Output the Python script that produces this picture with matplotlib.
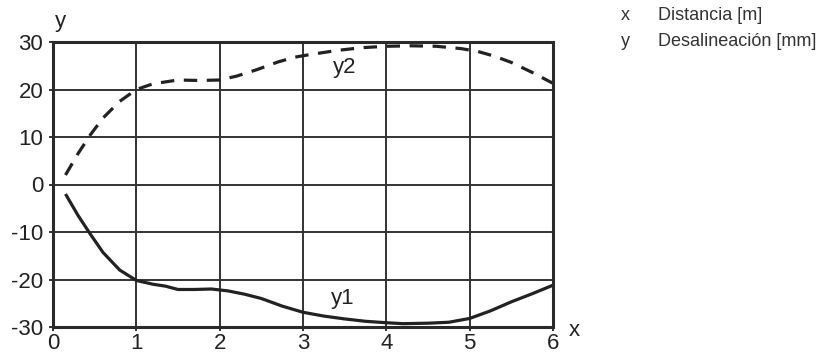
import numpy as np
import matplotlib.pyplot as plt

plt.rcParams['font.family'] = ['Liberation Sans', 'DejaVu Sans']
plt.rcParams['axes.unicode_minus'] = False

# curve y1 (solid)
x1 = [0.15, 0.3, 0.45, 0.6, 0.8, 1.0, 1.2, 1.35, 1.5, 1.7, 1.9, 2.1, 2.3, 2.5,
      2.75, 3.0, 3.25, 3.5, 3.75, 4.0, 4.2, 4.5, 4.75, 5.0, 5.25, 5.5, 5.75, 6.0]
y1 = [-2.0, -6.5, -10.5, -14.3, -18.0, -20.2, -21.0, -21.4, -22.1, -22.1, -22.0,
      -22.4, -23.1, -24.0, -25.6, -26.9, -27.7, -28.3, -28.8, -29.1, -29.3,
      -29.2, -29.0, -28.2, -26.6, -24.7, -23.0, -21.2]

# curve y2 (dashed)
x2 = [0.15, 0.3, 0.45, 0.6, 0.8, 1.0, 1.2, 1.5, 1.75, 2.0, 2.2, 2.45, 2.7, 2.9,
      3.1, 3.4, 3.7, 4.0, 4.3, 4.6, 4.9, 5.1, 5.3, 5.5, 5.75, 6.0]
y2 = [2.0, 6.5, 10.5, 14.0, 17.5, 20.0, 21.2, 22.0, 21.9, 22.0, 22.8, 24.2, 25.8,
      26.8, 27.4, 28.2, 28.8, 29.1, 29.2, 29.1, 28.6, 28.0, 27.0, 25.7, 23.6, 21.3]

xticks = [0, 1, 2, 3, 4, 5, 6]
yticks = [-30, -20, -10, 0, 10, 20, 30]

fig = plt.figure(figsize=(8.24, 3.58), dpi=100)
ax = fig.add_axes([53 / 824, 1 - 327 / 358, 500 / 824, 285 / 358])

ax.plot(x1, y1, color='#222222', lw=2.3, solid_capstyle='butt')
ax.plot(x2, y2, color='#222222', lw=2.3, dashes=(4.2, 3.0))

ax.set_xlim(0, 6)
ax.set_ylim(-30, 30)
ax.set_xticks(xticks)
ax.set_yticks(yticks)
ax.grid(True, color='#333333', lw=1.4)
ax.set_axisbelow(True)
for sp in ax.spines.values():
    sp.set_linewidth(2.2)
    sp.set_color('#2a2a2a')
ax.tick_params(axis='both', direction='out', length=3, width=1.4,
               color='#333333', labelsize=16, labelcolor='#222222')
ax.tick_params(axis='x', pad=1.5)
ax.tick_params(axis='y', pad=4)

# curve labels
ax.text(3.5, 24.6, 'y2', fontsize=16, color='#222222', ha='center', va='center')
ax.text(3.48, -23.9, 'y1', fontsize=16, color='#222222', ha='center', va='center')

# axis letters
fig.text(60 / 824, 1 - 21 / 358, 'y', fontsize=16, color='#222222',
         ha='center', va='center')
fig.text(574 / 824, 1 - 330 / 358, 'x', fontsize=16, color='#222222',
         ha='center', va='center')

# key at the right
fig.text(625 / 824, 1 - 16 / 358, 'x', fontsize=13, color='#333333',
         ha='center', va='center')
fig.text(658 / 824, 1 - 16 / 358, 'Distancia [m]', fontsize=13,
         color='#333333', ha='left', va='center')
fig.text(625 / 824, 1 - 41 / 358, 'y', fontsize=13, color='#333333',
         ha='center', va='center')
fig.text(658 / 824, 1 - 41 / 358, 'Desalineación [mm]', fontsize=13,
         color='#333333', ha='left', va='center')

fig.savefig('out.png', dpi=100)
